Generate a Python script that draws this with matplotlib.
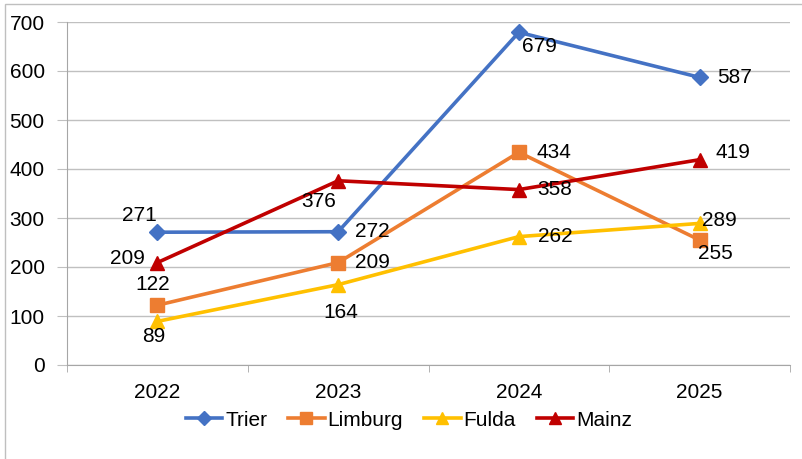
import matplotlib.pyplot as plt
from matplotlib.patches import Rectangle

years = ["2022", "2023", "2024", "2025"]
trier = [271, 272, 679, 587]
limburg = [122, 209, 434, 255]
fulda = [89, 164, 262, 289]
mainz = [209, 376, 358, 419]

plt.rcParams['font.family'] = ['Liberation Sans', 'DejaVu Sans']
FS = 15

# label offsets in pixels (dx right, dy down) for each point
offsets = {
    "Trier": [(-18, -17), (34, 0), (21, 14), (35, 0)],
    "Limburg": [(-5, -21), (34, 0), (35, 0), (16, 13)],
    "Fulda": [(-4, 15), (3, 28), (36, 0), (20, -3)],
    "Mainz": [(-30, -4), (-19, 21), (36, 0), (33, -7)],
}

series = [
    ("Trier", trier, "#4472C4", "D", 8.5),
    ("Limburg", limburg, "#ED7D31", "s", 10.5),
    ("Fulda", fulda, "#FFC000", "^", 10.5),
    ("Mainz", mainz, "#C00000", "^", 10.5),
]

fig = plt.figure(figsize=(8.02, 4.59), dpi=100)
ax = fig.add_axes([67 / 802, 1 - 365 / 459, (790 - 67) / 802, (365 - 22) / 459])

x = range(len(years))
for name, vals, col, mk, ms in series:
    ax.plot(x, vals, color=col, lw=2.6, marker=mk, ms=ms, label=name,
            solid_joinstyle='round', zorder=3)
    for i, v in enumerate(vals):
        dx, dy = offsets[name][i]
        ax.annotate(str(v), (i, v), xytext=(dx * 0.72, -dy * 0.72),
                    textcoords='offset points', ha='center', va='center',
                    fontsize=FS, color='black', zorder=4)

ax.set_xlim(-0.5, 3.5)
ax.set_ylim(0, 700)
ax.set_yticks(range(0, 701, 100))
ax.set_xticks(list(x))
ax.set_xticklabels(years)
ax.set_xticks([-0.5, 0.5, 1.5, 2.5, 3.5], minor=True)

ax.grid(axis='y', color='#C0C0C0', lw=1)
ax.set_axisbelow(True)
for s in ['top', 'right']:
    ax.spines[s].set_visible(False)
ax.spines['left'].set_color('#A6A6A6')
ax.spines['bottom'].set_color('#A6A6A6')
ax.tick_params(axis='y', length=7, color='#C0C0C0', pad=9, labelsize=FS)
ax.tick_params(axis='x', which='major', length=0, pad=13, labelsize=FS)
ax.tick_params(axis='x', which='minor', length=5, color='#A6A6A6')

fig.legend(loc='center', bbox_to_anchor=(409 / 802, 1 - 420 / 459), ncol=4,
           frameon=False, fontsize=FS, handlelength=1.75, handletextpad=0.15,
           columnspacing=1.0, markerscale=0.8)

fig.patches.append(Rectangle((5 / 802, -0.1), 1.2, 1 - 4 / 459 + 0.1,
                             transform=fig.transFigure, fill=False,
                             edgecolor='#BFBFBF', lw=1))

fig.savefig("out.png", dpi=100)
